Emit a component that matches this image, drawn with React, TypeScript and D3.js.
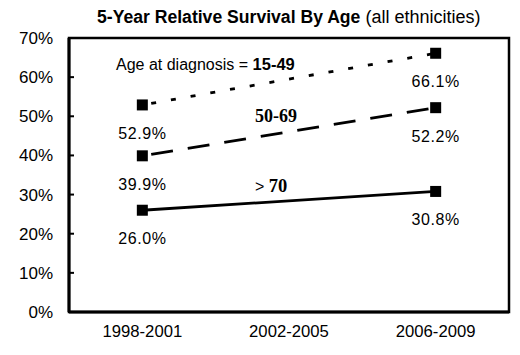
import React from "react";
import * as d3 from "d3";

const categories = ["1998-2001", "2002-2005", "2006-2009"];
const yTicks = [0, 10, 20, 30, 40, 50, 60, 70];
const seriesNames = ["15-49", "50-69", "> 70"];
const series1549 = [{ c: "1998-2001", v: 52.9 }, { c: "2006-2009", v: 66.1 }];
const series5069 = [{ c: "1998-2001", v: 39.9 }, { c: "2006-2009", v: 52.2 }];
const series70 = [{ c: "1998-2001", v: 26.0 }, { c: "2006-2009", v: 30.8 }];

const FONT = "'Liberation Sans', Arial, sans-serif";
const SERIF = "'Liberation Serif', 'Times New Roman', serif";

export default function App() {
  const W = 520, H = 355;
  const left = 69, right = 509, top = 38, bottom = 312;
  const x = d3.scaleBand<string>().domain(categories).range([left, right]);
  const y = d3.scaleLinear().domain([0, 70]).range([bottom, top]);
  const cx = (c: string) => (x(c) as number) + x.bandwidth() / 2;
  const line = d3.line<{ c: string; v: number }>().x((d) => cx(d.c)).y((d) => y(d.v));

  const all = [
    { data: series1549, dash: "5,15", name: seriesNames[0] },
    { data: series5069, dash: "22,15", name: seriesNames[1] },
    { data: series70, dash: null, name: seriesNames[2] },
  ];

  return (
    <svg width={W} height={H} style={{ position: "absolute", left: 0, top: 0, background: "#fff" }}>
      <rect x={0} y={0} width={W} height={H} fill="#fff" />
      <text x={97} y={23} fontFamily={FONT} fill="#000">
        <tspan fontWeight="bold" fontSize={17.6}>5-Year Relative Survival By Age</tspan>
        <tspan fontSize={18}> (all ethnicities)</tspan>
      </text>
      <rect x={left} y={top} width={right - left} height={bottom - top} fill="none" stroke="#000" strokeWidth={2.5} />
      <line x1={left} x2={left} y1={top} y2={bottom} stroke="#000" strokeWidth={3} />
      <line x1={left} x2={right} y1={bottom} y2={bottom} stroke="#000" strokeWidth={3} />
      {yTicks.map((t) => (
        <g key={t}>
          <line x1={left} x2={left + 5} y1={y(t)} y2={y(t)} stroke="#000" strokeWidth={2} />
          <text x={53} y={y(t) + 6} textAnchor="end" fontFamily={FONT} fontSize={17} fill="#000">
            {t}%
          </text>
        </g>
      ))}
      {categories.map((c) => (
        <text key={c} x={cx(c)} y={337} textAnchor="middle" fontFamily={FONT} fontSize={16.7} fill="#000">
          {c}
        </text>
      ))}
      {all.map((s, i) => (
        <g key={i}>
          <path d={line(s.data) || ""} fill="none" stroke="#000" strokeWidth={2.8} strokeDasharray={s.dash || undefined} strokeDashoffset={s.dash ? -9 : 0} />
          {s.data.map((d) => (
            <g key={d.c}>
              <rect x={cx(d.c) - 5.5} y={y(d.v) - 5.5} width={11} height={11} fill="#000" />
              <text x={cx(d.c)} y={y(d.v) + 34} textAnchor="middle" fontFamily={FONT} fontSize={16} letterSpacing={0.6} fill="#000">
                {d.v.toFixed(1)}%
              </text>
            </g>
          ))}
        </g>
      ))}
      <text x={116} y={70} fontFamily={FONT} fontSize={16} fill="#000">
        Age at diagnosis = <tspan fontWeight="bold" fontSize={16.5}>{seriesNames[0]}</tspan>
      </text>
      <text x={255} y={122} fontFamily={SERIF} fontWeight="bold" fontSize={18} fill="#000">{seriesNames[1]}</text>
      <text x={255} y={192} fontFamily={FONT} fontSize={16} fill="#000">
        {">"} <tspan fontFamily={SERIF} fontWeight="bold" fontSize={18.5}>70</tspan>
      </text>
    </svg>
  );
}
